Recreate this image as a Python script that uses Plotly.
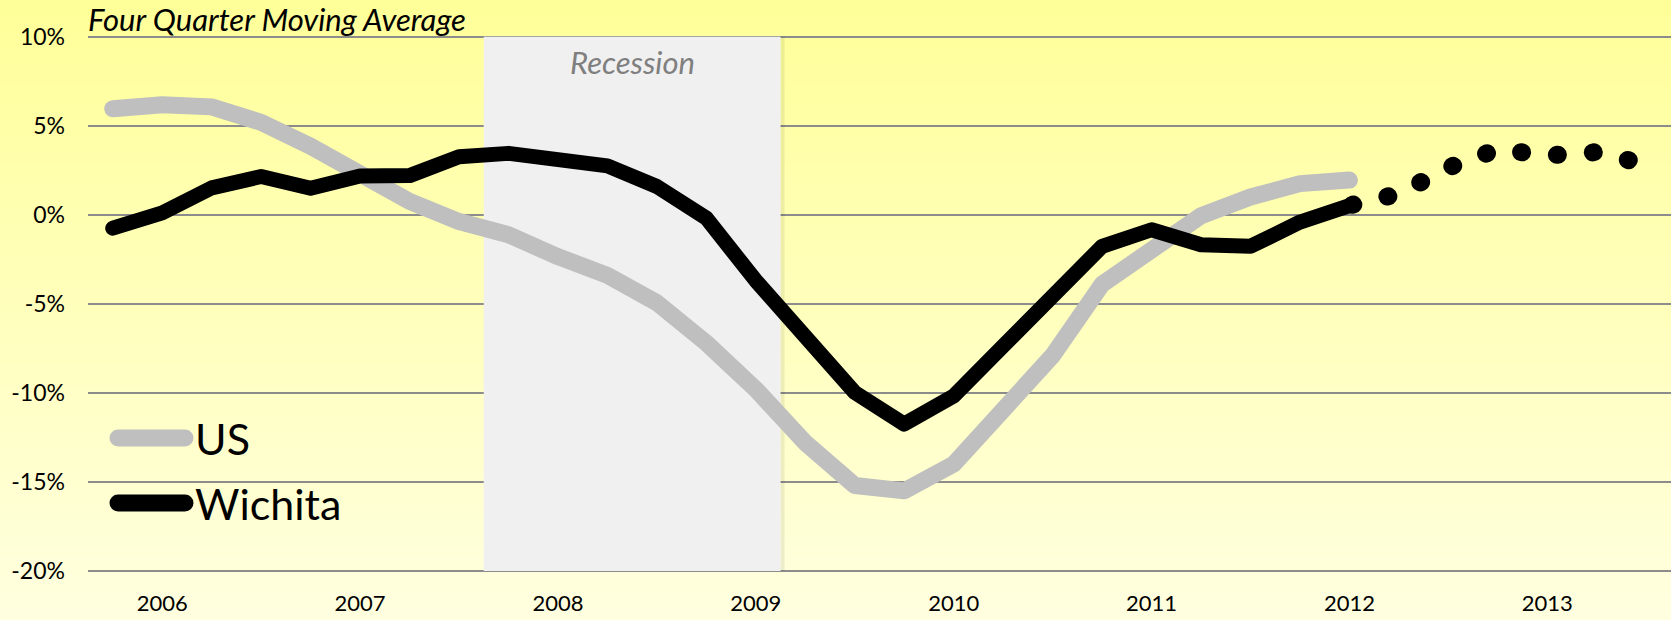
import zlib, struct, base64
import plotly.graph_objects as go

# ---------------- data ----------------
quarters = ["2005Q4"] + [f"{y}Q{q}" for y in range(2006, 2014) for q in range(1, 5)][:31]
us = [5.95, 6.18, 6.06, 5.19, 3.85, 2.35, 0.75, -0.38, -1.12, -2.35, -3.4, -4.94, -7.2,
      -9.8, -12.8, -15.2, -15.5, -14.0, -11.1, -7.9, -3.9, -2.0, -0.05, 1.0, 1.75, 1.95]
wichita = [-0.75, 0.11, 1.51, 2.15, 1.49, 2.18, 2.2, 3.26, 3.45, 3.13, 2.75, 1.59, -0.19,
           -3.7, -6.8, -9.98, -11.75, -10.17, -7.37, -4.5, -1.77, -0.84, -1.68, -1.77, -0.41, 0.52]
wichita_forecast = [0.52, 1.18, 2.65, 3.68, 3.33, 3.52, 2.82]
year_ticks = ["2006Q1", "2007Q1", "2008Q1", "2009Q1", "2010Q1", "2011Q1", "2012Q1", "2013Q1"]
year_labels = ["2006", "2007", "2008", "2009", "2010", "2011", "2012", "2013"]
y_ticks = [-20, -15, -10, -5, 0, 5, 10]
recession = (7.5, 13.5)

W, H = 1671, 620
FONT = "Lato"

def png_gradient(top, bottom, h=256):
    raw = b""
    for i in range(h):
        t = i / (h - 1)
        c = [round(top[k] + (bottom[k] - top[k]) * t) for k in range(3)]
        raw += b"\x00" + bytes(c)
    def chunk(tag, data):
        return struct.pack(">I", len(data)) + tag + data + struct.pack(">I", zlib.crc32(tag + data) & 0xffffffff)
    ihdr = struct.pack(">IIBBBBB", 1, h, 8, 2, 0, 0, 0)
    png = b"\x89PNG\r\n\x1a\n" + chunk(b"IHDR", ihdr) + chunk(b"IDAT", zlib.compress(raw)) + chunk(b"IEND", b"")
    return "data:image/png;base64," + base64.b64encode(png).decode()

fig = go.Figure()
fig.add_trace(go.Scatter(x=quarters[:len(us)], y=us, mode="lines", name="US",
                         line=dict(color="#BFBFBF", width=17), showlegend=False))
fig.add_trace(go.Scatter(x=quarters[:len(wichita)], y=wichita, mode="lines", name="Wichita",
                         line=dict(color="#000000", width=15), showlegend=False))
fig.add_trace(go.Scatter(x=quarters[len(wichita) - 1:], y=wichita_forecast, mode="lines",
                         name="Wichita forecast",
                         line=dict(color="#000000", width=18, dash="1px,35px"), showlegend=False))

# plot-area geometry (pixels in the 1671x620 page)
y_lo, y_hi = -20, 10
pad = 0.2                      # small range padding so edge gridlines are drawn
px_top, px_bot = 36.7, 571.0   # pixel rows of the 10% and -20% gridlines
ppu = (px_bot - px_top) / (y_hi - y_lo)
x0 = 88 / W
ytop = 1 - (px_top - pad * ppu) / H
ybot = 1 - (px_bot + pad * ppu) / H

# recession box + soft shadow
fig.add_shape(type="rect", xref="x", yref="y", xsizemode="pixel", xanchor=recession[1],
              x0=0, x1=4, y0=y_lo, y1=y_hi,
              fillcolor="rgba(0,0,0,0.07)", line_width=0, layer="between")
fig.add_shape(type="rect", xref="x", yref="y", x0=recession[0], x1=recession[1], y0=y_lo, y1=y_hi,
              fillcolor="#F0F0F0", line_width=0, layer="between")

fig.add_annotation(text="<i>Recession</i>", xref="x", yref="paper",
                   x=(recession[0] + recession[1]) / 2, y=1 - 62 / H, yanchor="middle",
                   showarrow=False, font=dict(family=FONT, size=31, color="#7F7F7F"))

fig.add_annotation(text="<i>Four Quarter Moving Average</i>", xref="paper", yref="paper",
                   x=x0 - 2 / W, y=1 - 19 / H, xanchor="left", yanchor="middle", showarrow=False,
                   font=dict(family=FONT, size=31, color="#000000"))

# custom legend
for name, color, width, yc in [("US", "#BFBFBF", 17, 438), ("Wichita", "#000000", 17, 503)]:
    fig.add_shape(type="line", xref="paper", yref="paper", x0=118 / W, x1=185 / W,
                  y0=1 - yc / H, y1=1 - yc / H, line=dict(color=color, width=width))
    fig.add_annotation(text=name, xref="paper", yref="paper", x=193 / W, y=1 - yc / H,
                       xanchor="left", yanchor="middle", showarrow=False,
                       font=dict(family=FONT, size=43, color="#000000"))

fig.update_layout(
    width=W, height=H,
    margin=dict(l=0, r=0, t=0, b=0, autoexpand=False),
    paper_bgcolor="#FFFFCC", plot_bgcolor="rgba(0,0,0,0)",
    font=dict(family=FONT, color="#000000"),
    showlegend=False,
    images=[dict(source=png_gradient((255, 255, 153), (255, 255, 224)), xref="paper", yref="paper",
                 x=0, y=1, sizex=1, sizey=1, sizing="stretch", layer="below",
                 xanchor="left", yanchor="top")],
    xaxis=dict(domain=[x0, 1], type="category", categoryorder="array", categoryarray=quarters,
               range=[-0.5, len(quarters) - 0.5], tickmode="array", tickvals=year_ticks,
               ticktext=year_labels, showgrid=False, zeroline=False, showline=False, ticks="",
               automargin=False, ticklabelstandoff=13,
               tickfont=dict(family=FONT, size=22, color="#000000")),
    yaxis=dict(domain=[ybot, ytop], range=[y_lo - pad, y_hi + pad], tickmode="array",
               tickvals=y_ticks, ticktext=[f"{v}%" for v in y_ticks], showgrid=True,
               gridcolor="#8C8C8C", gridwidth=2, zeroline=False, showline=False, ticks="",
               automargin=False, ticklabelstandoff=22,
               tickfont=dict(family=FONT, size=23, color="#000000")),
)

post = """
document.body.style.margin='0';
var gd=document.getElementById('{plot_id}');
gd.querySelectorAll('.scatterlayer path.js-line, .shapelayer path').forEach(function(p){
  p.style.strokeLinecap='round'; p.style.strokeLinejoin='round';
});
var lines=gd.querySelectorAll('.scatterlayer path.js-line');
if(lines.length>2){ lines[2].style.strokeDashoffset='-3px'; }
"""
fig.write_html("out.html", post_script=post, config={"displayModeBar": False})
